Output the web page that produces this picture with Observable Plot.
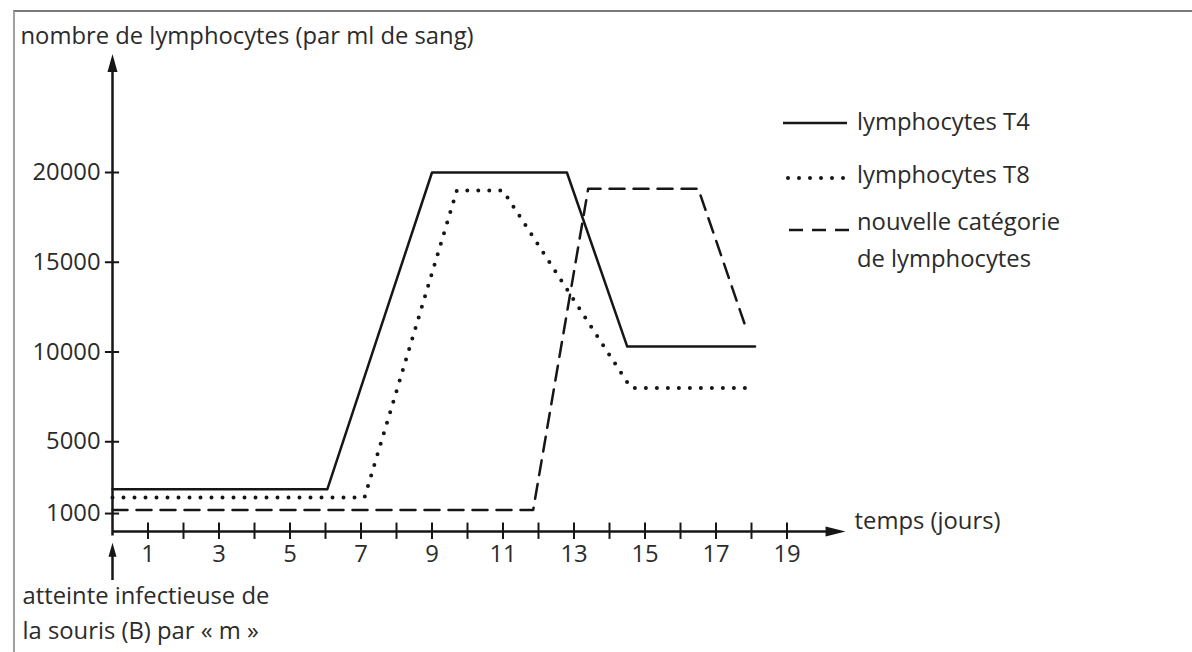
<!DOCTYPE html>
<html><head><meta charset="utf-8">
<script src="https://cdn.jsdelivr.net/npm/d3@7"></script>
<script src="https://cdn.jsdelivr.net/npm/@observablehq/plot@0.6"></script>
<style>
body{margin:0;background:#fff;}
#wrap{position:relative;width:1192px;height:652px;overflow:hidden;font-family:"Open Sans",sans-serif;color:#2b2b2b;}
#frame{position:absolute;left:13px;top:10px;width:1200px;height:700px;border-top:2px solid #7a7a7a;border-left:2px solid #a0a0a0;}
#chart{position:absolute;left:0;top:0;}
.leg{position:absolute;font-size:23.8px;line-height:30px;white-space:pre;color:#2b2b2b;}
.sw{position:absolute;overflow:visible;}
</style></head><body>
<div id="wrap"><div id="frame"></div><div id="chart"></div><div id="legend"></div></div>
<script>
// ---- data ----
const t4Days   = [0, 6.05, 9.0, 12.8, 14.5, 18.1];
const t4Values = [2350, 2350, 20000, 20000, 10300, 10300];

const t8Days   = [0, 7.1, 9.7, 11.0, 14.6, 18.0];
const t8Values = [1900, 1900, 19000, 19000, 8000, 8000];

const newDays   = [0, 11.85, 13.4, 16.5, 17.8];
const newValues = [1200, 1200, 19100, 19100, 11600];

const seriesNames = ["lymphocytes T4", "lymphocytes T8", "nouvelle catégorie\nde lymphocytes"];

const yTicks = [1000, 5000, 10000, 15000, 20000];
const xTickMarks = d3.range(1, 20);
const xTickLabels = [1, 3, 5, 7, 9, 11, 13, 15, 17, 19];

const yAxisLabel = "nombre de lymphocytes (par ml de sang)";
const xAxisLabel = "temps (jours)";
const eventLabel = "atteinte infectieuse de\nla souris (B) par « m »";

const xAxisEnd = 20.65;   // end of the time axis arrow (days)
const yAxisEnd = 26600;   // end of the vertical axis arrow
const eventArrow = [-2730, -620]; // arrow under day 0 (from, to)

// ---- build tables ----
const rows = (days, values, s) => days.map((d, i) => ({day: d, value: values[i], s}));
const t4 = rows(t4Days, t4Values, 0);
const t8 = rows(t8Days, t8Values, 1);
const nw = rows(newDays, newValues, 2);

const headUp = {draw(c){ c.moveTo(0,0); c.lineTo(5,18); c.lineTo(-5,18); c.closePath(); }};
const headUpSmall = {draw(c){ c.moveTo(0,0); c.lineTo(4,14); c.lineTo(-4,14); c.closePath(); }};
const headRight = {draw(c){ c.moveTo(0,0); c.lineTo(-20,-5); c.lineTo(-20,5); c.closePath(); }};

const ink = "#161616";
const txt = "#2b2b2b";
const FS = 23.8;

const chart = Plot.plot({
  width: 1192,
  height: 652,
  marginLeft: 112,
  marginRight: 0,
  marginTop: 0,
  marginBottom: 121,
  style: {fontFamily: "'Open Sans', sans-serif", fontSize: FS + "px", color: txt, background: "transparent", overflow: "visible"},
  x: {domain: [0, 19], range: [112, 786.5], ticks: xTickLabels, tickSize: 0, tickPadding: 14, tickFormat: d => String(d), label: null},
  y: {domain: [0, 20000], range: [531, 172], ticks: yTicks, tickSize: 0, tickPadding: 12, tickFormat: d => String(d), label: null},
  marks: [
    // axes lines
    Plot.ruleX([0], {y1: -250, y2: yAxisEnd - 500, stroke: ink, strokeWidth: 2.5}),
    Plot.ruleY([0], {x1: 0, x2: xAxisEnd - 0.4, stroke: ink, strokeWidth: 2.7}),
    Plot.dot([0], {x: 0, y: yAxisEnd, symbol: headUp, r: 5, fill: ink, stroke: "none"}),
    Plot.dot([0], {x: xAxisEnd, y: 0, symbol: headRight, r: 5, fill: ink, stroke: "none"}),
    // tick crosses
    Plot.ruleY(yTicks, {x1: -0.2, x2: 0.2, stroke: ink, strokeWidth: 2}),
    Plot.ruleX(xTickMarks, {y1: -440, y2: 470, stroke: ink, strokeWidth: 2}),
    // event arrow under the origin
    Plot.ruleX([0], {y1: eventArrow[0], y2: eventArrow[1] - 600, stroke: ink, strokeWidth: 2.5}),
    Plot.dot([0], {x: 0, y: eventArrow[1], symbol: headUpSmall, r: 4, fill: ink, stroke: "none"}),
    // series
    Plot.line(nw, {x: "day", y: "value", stroke: ink, strokeWidth: 2.5, strokeDasharray: "15 9"}),
    Plot.line(t8, {x: "day", y: "value", stroke: ink, strokeWidth: 4, strokeDasharray: "0 11", strokeLinecap: "round"}),
    Plot.line(t4, {x: "day", y: "value", stroke: ink, strokeWidth: 2.5}),
    // axis titles / annotation
    Plot.text([yAxisLabel], {x: 0, y: yAxisEnd, text: d => d, textAnchor: "start", lineAnchor: "bottom", dx: -92, dy: -10, fontSize: FS, fill: txt}),
    Plot.text([xAxisLabel], {x: xAxisEnd, y: 0, text: d => d, textAnchor: "start", lineAnchor: "bottom", dx: 9, dy: -3, fontSize: FS, fill: txt}),
    Plot.text([eventLabel], {x: 0, y: 0, text: d => d, textAnchor: "start", lineAnchor: "bottom", dx: -90, dy: 107, lineHeight: 1.47, fontSize: FS, fill: txt})
  ]
});
document.getElementById("chart").appendChild(chart);

// ---- legend ----
const legendStyles = [
  {dash: null, width: 2.5, cap: "butt"},
  {dash: "0 11", width: 4, cap: "round"},
  {dash: "14 9", width: 2.5, cap: "butt"}
];
const legendPos = [
  {x1: 783, x2: 847, ly: 123, tx: 857, ty: 106, lh: 30},
  {x1: 788, x2: 852, ly: 178, tx: 857, ty: 159, lh: 30},
  {x1: 789, x2: 849, ly: 230, tx: 857, ty: 203, lh: 37}
];
const leg = document.getElementById("legend");
seriesNames.forEach((name, i) => {
  const p = legendPos[i], st = legendStyles[i];
  const svg = document.createElementNS("http://www.w3.org/2000/svg", "svg");
  svg.setAttribute("class", "sw");
  svg.setAttribute("width", p.x2 - p.x1 + 6);
  svg.setAttribute("height", 10);
  svg.style.left = (p.x1 - 3) + "px";
  svg.style.top = (p.ly - 5) + "px";
  const ln = document.createElementNS("http://www.w3.org/2000/svg", "line");
  ln.setAttribute("x1", 3); ln.setAttribute("x2", p.x2 - p.x1 + 3);
  ln.setAttribute("y1", 5); ln.setAttribute("y2", 5);
  ln.setAttribute("stroke", ink);
  ln.setAttribute("stroke-width", st.width);
  ln.setAttribute("stroke-linecap", st.cap);
  if (st.dash) ln.setAttribute("stroke-dasharray", st.dash);
  svg.appendChild(ln);
  leg.appendChild(svg);
  const t = document.createElement("div");
  t.className = "leg";
  t.style.left = p.tx + "px";
  t.style.top = p.ty + "px";
  t.style.lineHeight = p.lh + "px";
  t.textContent = name;
  leg.appendChild(t);
});
</script>
</body></html>
